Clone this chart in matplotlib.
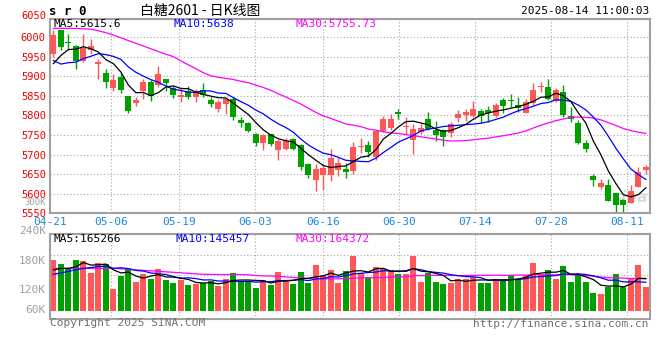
import matplotlib
matplotlib.use("Agg")
import matplotlib.pyplot as plt
from matplotlib.transforms import ScaledTranslation
import numpy as np
import pandas as pd

# daily K-line for sr0 (白糖2601), 2025-04-21 .. 2025-08-14
open_ = [5957, 6017, 5987, 5978, 5940, 5967, 5932, 5908, 5870, 5898,
         5849, 5832, 5863, 5884, 5877, 5893, 5870, 5847, 5862, 5847,
         5865, 5840, 5817, 5828, 5842, 5787, 5780, 5753, 5730, 5752,
         5712, 5715, 5740, 5724, 5677, 5636, 5649, 5649, 5660, 5664,
         5658, 5718, 5725, 5694, 5760, 5769, 5808, 5770, 5738, 5758,
         5791, 5762, 5763, 5754, 5794, 5801, 5799, 5811, 5813, 5799,
         5839, 5839, 5826, 5807, 5832, 5873, 5872, 5837, 5860, 5798,
         5781, 5730, 5645, 5616, 5621, 5601, 5584, 5577, 5616, 5661]
high = [6018, 6019, 6007, 5980, 6008, 5995, 5944, 5918, 5905, 5909,
        5849, 5848, 5892, 5890, 5927, 5893, 5876, 5872, 5876, 5868,
        5882, 5847, 5838, 5847, 5847, 5797, 5782, 5755, 5753, 5753,
        5740, 5743, 5742, 5726, 5678, 5677, 5677, 5715, 5690, 5679,
        5732, 5742, 5735, 5762, 5798, 5803, 5817, 5796, 5777, 5779,
        5808, 5786, 5766, 5784, 5813, 5816, 5837, 5815, 5824, 5832,
        5845, 5854, 5846, 5843, 5883, 5886, 5892, 5871, 5877, 5822,
        5788, 5737, 5650, 5637, 5637, 5603, 5586, 5622, 5669, 5673]
low = [5949, 5966, 5966, 5919, 5936, 5957, 5893, 5870, 5863, 5858,
       5807, 5825, 5842, 5837, 5873, 5862, 5844, 5834, 5842, 5834,
       5847, 5821, 5808, 5804, 5789, 5770, 5757, 5721, 5711, 5721,
       5687, 5712, 5711, 5661, 5640, 5607, 5609, 5633, 5644, 5641,
       5650, 5704, 5694, 5687, 5757, 5762, 5791, 5752, 5702, 5753,
       5762, 5734, 5722, 5744, 5784, 5785, 5796, 5780, 5784, 5797,
       5807, 5822, 5808, 5805, 5826, 5860, 5839, 5835, 5797, 5784,
       5726, 5707, 5620, 5611, 5582, 5552, 5554, 5576, 5616, 5650]
close = [6004, 5975, 5984, 5940, 5973, 5977, 5936, 5885, 5890, 5865,
         5811, 5839, 5886, 5850, 5905, 5882, 5853, 5853, 5847, 5862,
         5853, 5830, 5834, 5842, 5796, 5780, 5760, 5730, 5749, 5728,
         5735, 5734, 5715, 5667, 5647, 5664, 5666, 5691, 5679, 5655,
         5719, 5722, 5706, 5760, 5791, 5791, 5804, 5774, 5766, 5768,
         5766, 5751, 5745, 5778, 5803, 5809, 5816, 5798, 5805, 5826,
         5825, 5837, 5820, 5833, 5865, 5876, 5843, 5866, 5801, 5791,
         5730, 5714, 5635, 5628, 5582, 5571, 5571, 5608, 5656, 5669]
# volume in thousands of lots
volume = [159.3, 146.7, 135.2, 159.3, 156.2, 119.5, 150.9, 146.7, 68.1, 109.0,
          131.0, 90.1, 114.2, 99.6, 131.0, 96.4, 87.0, 96.4, 80.7, 83.8,
          87.0, 93.3, 77.6, 99.6, 118.4, 93.3, 93.3, 71.3, 96.4, 80.7,
          121.6, 96.4, 83.8, 121.6, 87.0, 143.6, 111.1, 127.9, 85.9, 124.7,
          172.9, 117.4, 106.9, 137.3, 131.0, 127.9, 115.3, 115.3, 172.9, 90.1,
          117.4, 90.1, 83.8, 88.0, 99.6, 100.6, 106.9, 88.0, 88.0, 100.6,
          99.6, 112.1, 99.6, 112.1, 150.9, 115.3, 127.9, 98.5, 140.4, 90.1,
          112.1, 90.1, 56.6, 52.4, 75.5, 115.3, 75.5, 98.5, 143.6, 74.4]

# closes / volumes of the 29 sessions before 04-21 (only feed the moving averages)
pre_close = [5975, 5984, 5940, 6003, 6007, 6056, 6035, 6070, 6075, 6021,
             6049, 6096, 6060, 6115, 6092, 6033, 6183, 6147, 6162, 6157,
             6065, 5949, 5927, 5881, 5918, 5870, 5909, 5935, 5942]
pre_volume = [147, 135, 159, 156, 120, 151, 147, 68, 156, 178,
              137, 161, 147, 178, 143, 134, 143, 128, 131, 134,
              100, 90, 105, 115, 92, 121.6, 135, 134.3, 89.5]

tick_labels = ['04-21', '05-06', '05-19', '06-03', '06-16', '06-30', '07-14', '07-28', '08-11']
tick_index = [0, 8, 17, 27, 36, 46, 56, 66, 76]

W, H = 660, 360
RED, GREEN = '#FF5656', '#00A000'
GRID = '#A8A8A8'
FRAME = '#A0A0A0'
MONO = 'DejaVu Sans Mono'


def fx(x):
    return x / W


def fy(y):
    return 1 - y / H


def ma(pre, vals, n):
    s = pd.Series(list(pre) + list(vals), dtype=float)
    return s.rolling(n).mean().to_numpy()[len(pre):]


n = len(close)
xs = np.arange(n) + 0.45
o = np.array(open_, dtype=float)
c = np.array(close, dtype=float)
up = c >= o
colors = [RED if u else GREEN for u in up]
grid_x = np.array(tick_index) * 80 / 79

fig = plt.figure(figsize=(W / 100, H / 100), dpi=100)
fig.patch.set_facecolor('white')

ax = fig.add_axes([fx(50), fy(213.3), 600 / W, (213.3 - 19) / H])
axv = fig.add_axes([fx(50), fy(318.7), 600 / W, (318.7 - 234.3) / H])

# ---- price panel
ax.set_xlim(0, n)
ax.set_ylim(5550, 6046)
for gx in grid_x[1:]:
    ax.axvline(gx, color=GRID, lw=0.8, ls=(0, (1, 2)), zorder=0)
for gy in range(5600, 6046, 50):
    ax.axhline(gy, color=GRID, lw=0.8, ls=(0, (1, 2)), zorder=0)

ax.vlines(xs, low, high, colors=colors, lw=1, zorder=2)
body = np.where(up, np.maximum(c - o, 2.5), np.minimum(c - o, -2.5))
ax.bar(xs, body, bottom=o, width=0.8, color=colors, lw=0, zorder=3)

ax.plot(xs, ma(pre_close, close, 30), color='#FF00FF', lw=0.9, zorder=4)
ax.plot(xs, ma(pre_close, close, 10), color='#0000FF', lw=0.9, zorder=4)
ax.plot(xs, ma(pre_close, close, 5), color='black', lw=0.9, zorder=4)

ax.text(0.997, 0.08, 'sina', transform=ax.transAxes, ha='right', va='center',
        fontsize=11, style='italic', fontweight='bold', color='#DADADA', zorder=1)

ax.set_yticks(range(5550, 6046, 50))
ax.set_yticklabels([str(v) for v in range(5550, 6046, 50)], color='#EE0000',
                   fontfamily=MONO, fontsize=7.5)
lift = ScaledTranslation(0, 2 / 100, fig.dpi_scale_trans)
for lab in ax.get_yticklabels():
    lab.set_transform(lab.get_transform() + lift)
ax.set_xticks(grid_x)
ax.set_xticklabels(tick_labels, color='#1E88E0', fontfamily=MONO, fontsize=8)
ax.tick_params(length=0, pad=3)
for s in ax.spines.values():
    s.set_color(FRAME)
    s.set_linewidth(1.5)

# ---- volume panel
vlo, vhi = -25, 240
axv.set_xlim(0, n)
axv.set_ylim(vlo, vhi)
for gx in grid_x[1:]:
    axv.axvline(gx, color=GRID, lw=0.8, ls=(0, (1, 2)), zorder=0)
for f in (0.755, 0.515, 0.278):
    axv.axhline(vlo + f * (vhi - vlo), color=GRID, lw=0.8, ls=(0, (1, 2)), zorder=0)
axv.bar(xs, volume, width=0.8, color=colors, lw=0, zorder=2)
axv.plot(xs, ma(pre_volume, volume, 30), color='#FF00FF', lw=0.9, zorder=3)
axv.plot(xs, ma(pre_volume, volume, 10), color='#0000FF', lw=0.9, zorder=3)
axv.plot(xs, ma(pre_volume, volume, 5), color='black', lw=0.9, zorder=3)
axv.set_xticks([])
axv.set_yticks([])
for s in axv.spines.values():
    s.set_color(FRAME)
    s.set_linewidth(1.5)

# ---- texts
fig.text(fx(46), fy(16), '6050', color='#EE0000', fontfamily=MONO, fontsize=7.5,
         ha='right', va='center')
fig.text(fx(46), fy(202.5), '300K', color='#A0A0A0', fontfamily=MONO, fontsize=6.5,
         ha='right', va='center')
for lab, yy in (('240K', 230.7), ('180K', 261), ('120K', 290), ('60K', 310)):
    fig.text(fx(46), fy(yy), lab, color='#A0A0A0', fontfamily=MONO, fontsize=8,
             ha='right', va='center')

fig.text(fx(49), fy(11.5), 's r 0', fontfamily=MONO, fontweight='bold', fontsize=9,
         ha='left', va='center')
fig.text(fx(200), fy(10.5), '白糖2601 - 日K线图', fontfamily=['Noto Sans CJK SC', 'DejaVu Sans'],
         fontsize=10, ha='center', va='center')
fig.text(fx(649), fy(11.5), '2025-08-14 11:00:03', fontfamily=MONO, fontsize=8,
         ha='right', va='center')

for txt, x0, col in (('MA5:5615.6', 54, 'black'), ('MA10:5638', 174, '#0000FF'),
                     ('MA30:5755.73', 295, '#FF00FF')):
    fig.text(fx(x0), fy(24), txt, color=col, fontfamily=MONO, fontsize=8,
             ha='left', va='center')
for txt, x0, col in (('MA5:165266', 54, 'black'), ('MA10:145457', 175, '#0000FF'),
                     ('MA30:164372', 295, '#FF00FF')):
    fig.text(fx(x0), fy(238.7), txt, color=col, fontfamily=MONO, fontsize=8,
             ha='left', va='center')

fig.text(fx(50), fy(323.5), 'Copyright 2025 SINA.COM', color='#707070', fontfamily=MONO,
         fontsize=8, ha='left', va='center')
fig.text(fx(649), fy(324), 'http://finance.sina.com.cn', color='#707070', fontfamily=MONO,
         fontsize=8, ha='right', va='center')

fig.savefig('out.png', dpi=100)
